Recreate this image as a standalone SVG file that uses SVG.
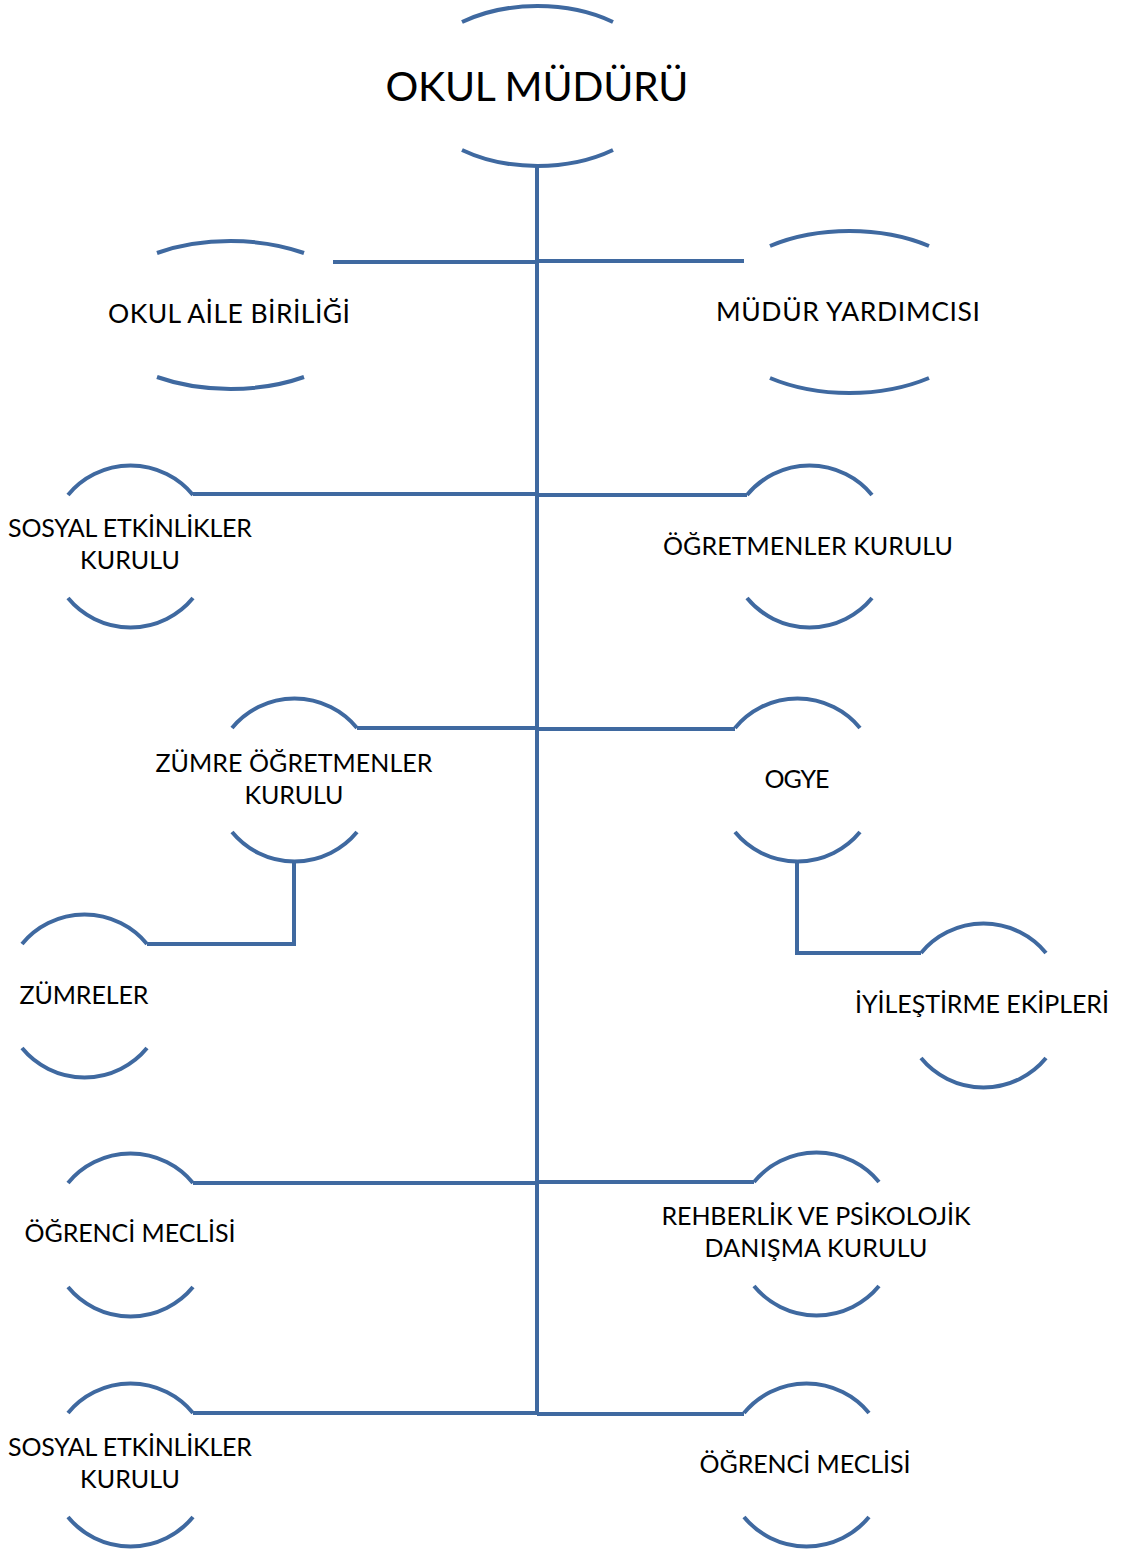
<svg xmlns="http://www.w3.org/2000/svg" width="1122" height="1552" viewBox="0 0 1122 1552">
<style>
.arc{fill:none;stroke:#3f69a0;stroke-width:4}
.con{fill:none;stroke:#3f69a0;stroke-width:4}
text{font-family:Lato,"Liberation Sans",sans-serif;fill:#000;text-anchor:middle}
.t{font-size:25px}
.w{font-size:26.5px}
.big{font-size:41px}
</style>
<rect width="1122" height="1552" fill="#fff"/>
<g id="connectors">
<path class="con" d="M537,166 V1414"/>
<path class="con" d="M333,262 H537 M537,261 H744"/>
<path class="con" d="M193,494 H537 M537,495 H747"/>
<path class="con" d="M357,728 H537 M537,729 H735"/>
<path class="con" d="M294,862 V944 H147"/>
<path class="con" d="M797,862 V953 H921"/>
<path class="con" d="M193,1183 H537 M537,1182 H754"/>
<path class="con" d="M193,1413 H537 M537,1414 H744"/>
</g>
<g id="okul-muduru">
<path class="arc" d="M462,22 A126,80 0 0 1 613,22 M462,150 A126,80 0 0 0 613,150"/>
<text class="big" x="537" y="101" textLength="303">OKUL MÜDÜRÜ</text>
</g>
<g id="okul-aile-birligi">
<path class="arc" d="M157,253 A135,74 0 0 1 304,253 M157,377 A135,74 0 0 0 304,377"/>
<text class="w" x="229" y="323" textLength="242">OKUL AİLE BİRİLİĞİ</text>
</g>
<g id="mudur-yardimcisi">
<path class="arc" d="M770,246 A138,82 0 0 1 929,246 M770,378 A138,82 0 0 0 929,378"/>
<text class="w" x="848" y="321" textLength="264">MÜDÜR YARDIMCISI</text>
</g>
<g id="sosyal-etkinlikler-1">
<path class="arc" d="M68,495 A81,81 0 0 1 193,495 M68,598 A81,81 0 0 0 193,598"/>
<text class="t" x="130" y="537" textLength="244">SOSYAL ETKİNLİKLER</text>
<text class="t" x="130" y="569" textLength="100">KURULU</text>
</g>
<g id="ogretmenler-kurulu">
<path class="arc" d="M747,495 A81,81 0 0 1 872,495 M747,598 A81,81 0 0 0 872,598"/>
<text class="t" x="808" y="555" textLength="290">ÖĞRETMENLER KURULU</text>
</g>
<g id="zumre-ogretmenler-kurulu">
<path class="arc" d="M232,728 A81,81 0 0 1 357,728 M232,832 A81,81 0 0 0 357,832"/>
<text class="t" x="294" y="772" textLength="277">ZÜMRE ÖĞRETMENLER</text>
<text class="t" x="294" y="804" textLength="99">KURULU</text>
</g>
<g id="ogye">
<path class="arc" d="M735,728 A81,81 0 0 1 860,728 M735,832 A81,81 0 0 0 860,832"/>
<text class="t" x="797" y="788" textLength="65">OGYE</text>
</g>
<g id="zumreler">
<path class="arc" d="M22,944 A81,81 0 0 1 147,944 M22,1048 A81,81 0 0 0 147,1048"/>
<text class="t" x="84" y="1004" textLength="129">ZÜMRELER</text>
</g>
<g id="iyilestirme-ekipleri">
<path class="arc" d="M921,953 A81,81 0 0 1 1046,953 M921,1058 A81,81 0 0 0 1046,1058"/>
<text class="t" x="982" y="1013" textLength="254">İYİLEŞTİRME EKİPLERİ</text>
</g>
<g id="ogrenci-meclisi-1">
<path class="arc" d="M68,1183 A81,81 0 0 1 193,1183 M68,1287 A81,81 0 0 0 193,1287"/>
<text class="t" x="130" y="1242" textLength="211">ÖĞRENCİ MECLİSİ</text>
</g>
<g id="rehberlik">
<path class="arc" d="M754,1182 A81,81 0 0 1 879,1182 M754,1286 A81,81 0 0 0 879,1286"/>
<text class="t" x="816" y="1225" textLength="309">REHBERLİK VE PSİKOLOJİK</text>
<text class="t" x="816" y="1257" textLength="223">DANIŞMA KURULU</text>
</g>
<g id="sosyal-etkinlikler-2">
<path class="arc" d="M68,1413 A81,81 0 0 1 193,1413 M68,1517 A81,81 0 0 0 193,1517"/>
<text class="t" x="130" y="1456" textLength="244">SOSYAL ETKİNLİKLER</text>
<text class="t" x="130" y="1488" textLength="100">KURULU</text>
</g>
<g id="ogrenci-meclisi-2">
<path class="arc" d="M744,1413 A81,81 0 0 1 869,1413 M744,1517 A81,81 0 0 0 869,1517"/>
<text class="t" x="805" y="1473" textLength="211">ÖĞRENCİ MECLİSİ</text>
</g>
</svg>
